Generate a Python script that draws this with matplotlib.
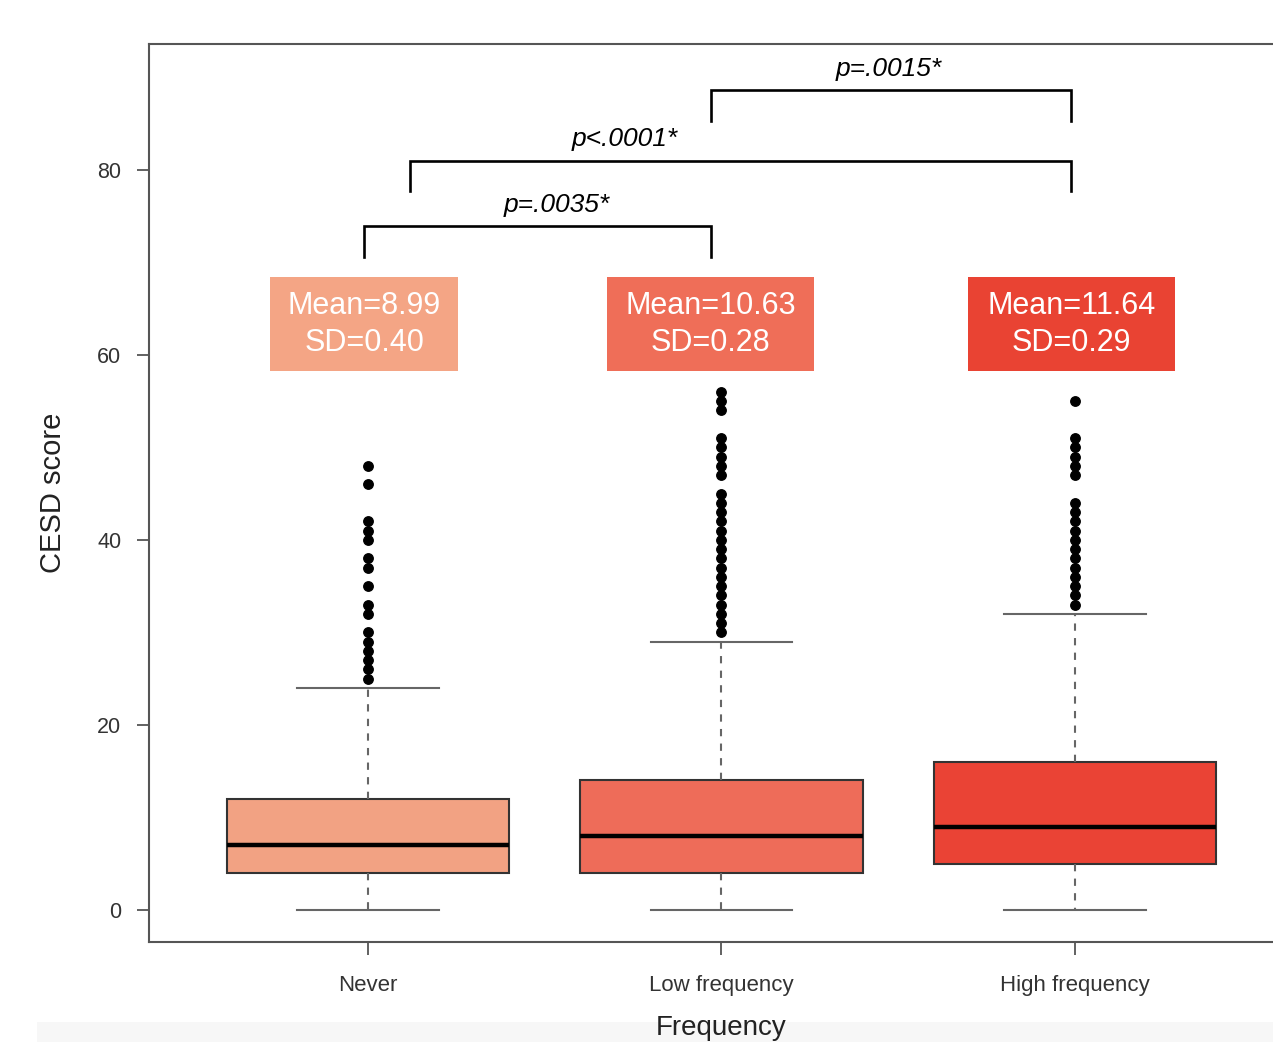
import matplotlib.pyplot as plt
from matplotlib.patches import Rectangle

plt.rcParams['font.family'] = ['Liberation Sans', 'DejaVu Sans']

# Data
groups = ['Never', 'Low frequency', 'High frequency']
q1 = [4, 4, 5]
medians = [7, 8, 9]
q3 = [12, 14, 16]
whisker_low = [0, 0, 0]
whisker_high = [24, 29, 32]
outliers = [
    [25, 26, 27, 28, 29, 30, 32, 33, 35, 37, 38, 40, 41, 42, 46, 48],
    list(range(30, 46)) + [47, 48, 49, 50, 51, 54, 55, 56],
    list(range(33, 45)) + [47, 48, 49, 50, 51, 55],
]
means = [8.99, 10.63, 11.64]
sds = [0.40, 0.28, 0.29]
p_labels = ['p=.0035*', 'p<.0001*', 'p=.0015*']

box_colors = ['#F2A283', '#EE6C59', '#EA4335']
label_colors = ['#F4A585', '#EF6E58', '#E94333']

fig = plt.figure(figsize=(12.73, 10.42), dpi=100)
# light band at the very bottom (cropped source)
fig.patches.append(Rectangle((37 / 1273, 0), 1, 20 / 1042, transform=fig.transFigure,
                             facecolor='#f7f7f7', edgecolor='none', zorder=0))
ax = fig.add_axes([149 / 1273, 1 - 942 / 1042, (1300 - 149) / 1273, (942 - 44) / 1042])
ax.patch.set_alpha(0)

positions = [1, 2, 3]
stats = []
for i in range(3):
    stats.append(dict(med=medians[i], q1=q1[i], q3=q3[i], whislo=whisker_low[i],
                      whishi=whisker_high[i], fliers=outliers[i]))

bp = ax.bxp(stats, positions=positions, widths=0.8, patch_artist=True,
            showfliers=True,
            boxprops=dict(edgecolor='#333333', linewidth=1.5),
            medianprops=dict(color='black', linewidth=3.2),
            whiskerprops=dict(color='#666666', linewidth=1.5, linestyle=(0, (3.5, 3.5))),
            capprops=dict(color='#666666', linewidth=1.5),
            capwidths=0.4,
            flierprops=dict(marker='o', markerfacecolor='black', markeredgecolor='black',
                            markersize=6.8))
for patch, c in zip(bp['boxes'], box_colors):
    patch.set_facecolor(c)

# Mean / SD label boxes
label_x = [0.99, 1.97, 2.99]
label_w = [0.532, 0.585, 0.585]
for i in range(3):
    ax.add_patch(Rectangle((label_x[i] - label_w[i] / 2, 58.3), label_w[i], 10.1,
                           facecolor=label_colors[i], edgecolor='none', zorder=3))
    ax.text(label_x[i], 63.25, 'Mean=%.2f\nSD=%.2f' % (means[i], sds[i]),
            ha='center', va='center', color='white', fontsize=22,
            linespacing=1.3, zorder=4)

# Significance brackets
bracket_x = [(0.99, 1.97), (1.12, 2.99), (1.97, 2.99)]
bracket_top = [73.9, 81.0, 88.6]
text_x = [1.535, 1.727, 2.474]
for (x0, x1), top, tx, lab in zip(bracket_x, bracket_top, text_x, p_labels):
    ax.plot([x0, x0, x1, x1], [top - 3.3, top, top, top - 3.3], color='black',
            linewidth=1.9, solid_joinstyle='miter', clip_on=False)
    ax.text(tx, top + 1.0, lab, ha='center', va='bottom', fontsize=19,
            fontstyle='italic', color='black')

ax.set_xlim(0.3805, 3 + (1300 - 1075) / 353.5)
ax.set_ylim(-3.46, 93.62)
ax.set_yticks([0, 20, 40, 60, 80])
ax.set_xticks(positions)
ax.set_xticklabels(groups)
ax.tick_params(axis='y', length=9, width=1.3, color='#555555', labelsize=15.5,
               labelcolor='#333333', pad=11)
ax.tick_params(axis='x', length=9, width=1.3, color='#555555', labelsize=16,
               labelcolor='#333333', pad=15)
for s in ax.spines.values():
    s.set_color('#555555')
    s.set_linewidth(1.5)

ax.set_ylabel('CESD score', fontsize=21, color='#222222', labelpad=22)
fig.text(721 / 1273, 1 - 1015 / 1042, 'Frequency', ha='center', va='top',
         fontsize=20, color='#222222')

fig.savefig('out.png', dpi=100)
